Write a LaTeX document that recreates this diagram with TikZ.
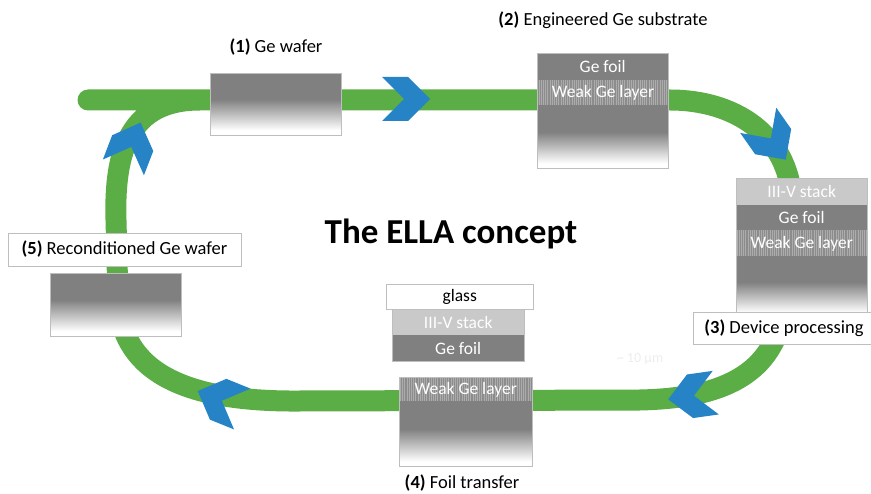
\documentclass[tikz,border=0pt]{standalone}
\usepackage{fontspec}
\setmainfont{Carlito}
\usetikzlibrary{patterns.meta}

\definecolor{bandgreen}{RGB}{91,173,69}
\definecolor{chevblue}{RGB}{38,132,198}
\definecolor{wafergray}{RGB}{128,128,128}
\definecolor{weakgray}{RGB}{140,140,140}
\definecolor{weaklines}{RGB}{172,172,172}
\definecolor{stackgray}{RGB}{201,201,201}
\definecolor{edgegray}{RGB}{190,190,190}
\pgfdeclareverticalshading{wafer}{100bp}{color(0bp)=(white); color(29bp)=(white); color(54bp)=(wafergray); color(100bp)=(wafergray)}

\begin{document}
\begin{tikzpicture}[x=1pt,y=-1pt,
    band/.style={draw=bandgreen, line width=21pt, line cap=round},
    layer/.style={anchor=north west, minimum width=131pt, inner sep=0pt,
      text=white, font=\fontsize{17.5}{20}\selectfont},
    foil/.style={layer, fill=wafergray},
    stack/.style={layer, fill=stackgray},
    weak/.style={layer, preaction={fill=weakgray},
      pattern={Lines[angle=90,distance=2.2pt,line width=0.9pt]}, pattern color=weaklines},
    sub/.style={layer, shade, shading=wafer},
    outline/.style={draw=edgegray, line width=0.7pt},
    lbl/.style={font=\fontsize{18.5}{22}\selectfont},
    lblbox/.style={lbl, draw=edgegray, line width=0.7pt, fill=white, inner sep=0pt},
    chev/.pic={\fill[chevblue] (24,0) -- (2,22) -- (-24,22) -- (-2,0) -- (-24,-22) -- (2,-22) -- cycle;}
  ]
  \useasboundingbox (0,0) rectangle (871,494);

  % Process loop
  \draw[band] (88,100) -- (670,100)
    .. controls (735,100) and (788,135) .. (792,200) -- (785,300)
    .. controls (778,370) and (730,398) .. (640,400) -- (300,401)
    .. controls (190,402) and (122,375) .. (118,300) -- (116,220)
    .. controls (114,150) and (130,100) .. (200,100);

  % Direction arrows
  \pic at (406,99) {chev};
  \pic[rotate=-55] at (772,140) {chev};
  \pic[rotate=188] at (692,396) {chev};
  \pic[rotate=158] at (220,400) {chev};
  \pic[rotate=69] at (132,145) {chev};

  % (1) Ge wafer
  \node[sub, minimum height=62pt] (sub1) at (210,73) {};
  \draw[outline] (sub1.north west) rectangle (sub1.south east);
  \node[lbl] (lbl1) at (276,47) {\textbf{(1)} Ge wafer};

  % (2) Engineered Ge substrate
  \node[foil, minimum height=27pt] (foil2) at (537,53) {Ge foil};
  \node[weak, minimum height=25.8pt] (weak2) at ([yshift=0.8pt]foil2.south west) {Weak Ge layer};
  \node[sub, minimum height=62.8pt] (sub2) at ([yshift=0.8pt]weak2.south west) {};
  \draw[outline] (foil2.north west) rectangle (sub2.south east);
  \node[lbl] (lbl2) at (603,20) {\textbf{(2)} Engineered Ge substrate};

  % (3) Device processing
  \node[stack, minimum height=27pt] (stack3) at (736,178) {III-V stack};
  \node[foil, minimum height=25.8pt] (foil3) at ([yshift=0.8pt]stack3.south west) {Ge foil};
  \node[weak, minimum height=26.8pt] (weak3) at ([yshift=0.8pt]foil3.south west) {Weak Ge layer};
  \node[sub, minimum height=60.8pt] (sub3) at ([yshift=0.8pt]weak3.south west) {};
  \draw[outline] (stack3.north west) rectangle (sub3.south east);
  \node[lblbox, minimum width=182pt, minimum height=32pt] (lbl3) at (784,328) {\textbf{(3)} Device processing};

  % (4) Foil transfer
  \node[layer, text=black, minimum width=147pt, minimum height=25pt] (glass4) at (386,284) {glass};
  \draw[outline] (glass4.north west) rectangle (glass4.south east);
  \node[stack, minimum width=132pt, minimum height=26pt] (stack4) at (392,309) {III-V stack};
  \node[foil, minimum width=132pt, minimum height=26.8pt] (foil4) at ([yshift=0.8pt]stack4.south west) {Ge foil};
  \draw[outline] (stack4.north west) rectangle (foil4.south east);
  \node[text=gray!14, font=\fontsize{14}{16}\selectfont] (thick4) at (640,359) {\textasciitilde{} 10 µm};
  \node[weak, minimum width=133pt, minimum height=25pt] (weak4) at (399,377) {Weak Ge layer};
  \node[sub, minimum width=133pt, minimum height=64.8pt] (sub4) at ([yshift=0.8pt]weak4.south west) {};
  \draw[outline] (weak4.north west) rectangle (sub4.south east);
  \node[lbl] (lbl4) at (462,483) {\textbf{(4)} Foil transfer};

  % (5) Reconditioned Ge wafer
  \node[lblbox, minimum width=233pt, minimum height=33pt] (lbl5) at (124.5,249.5) {\textbf{(5)} Reconditioned Ge wafer};
  \node[sub, minimum height=63pt] (sub5) at (50,273) {};
  \draw[outline] (sub5.north west) rectangle (sub5.south east);

  \node[font=\bfseries\fontsize{35}{40}\selectfont] (title) at (451,234) {The ELLA concept};
\end{tikzpicture}
\end{document}
